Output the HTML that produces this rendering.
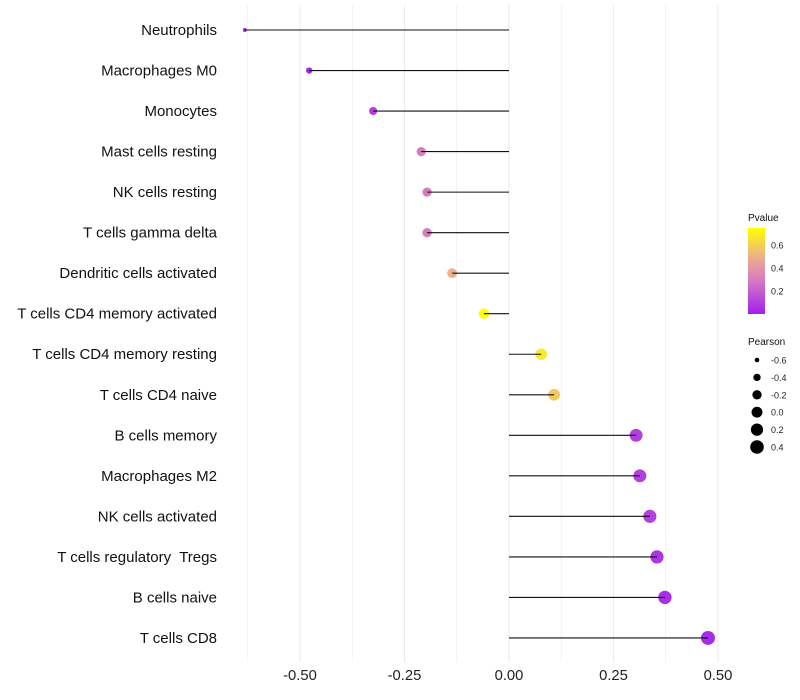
<!DOCTYPE html>
<html><head><meta charset="utf-8"><style>
body{margin:0;background:#fff;font-family:"Liberation Sans",Arial,sans-serif}
svg{display:block}
text{white-space:pre}
</style></head><body>
<svg id="chart" width="800" height="700"></svg>
<script>
const categories=["Neutrophils","Macrophages M0","Monocytes","Mast cells resting","NK cells resting","T cells gamma delta","Dendritic cells activated","T cells CD4 memory activated","T cells CD4 memory resting","T cells CD4 naive","B cells memory","Macrophages M2","NK cells activated","T cells regulatory  Tregs","B cells naive","T cells CD8"];
const pearson=[-0.632,-0.478,-0.325,-0.21,-0.196,-0.196,-0.136,-0.06,0.077,0.108,0.304,0.313,0.337,0.354,0.373,0.476];
const pvalues=[0.02,0.03,0.1,0.3,0.3,0.3,0.5,0.75,0.68,0.58,0.1,0.1,0.1,0.07,0.05,0.04];
const xTicks=[-0.5,-0.25,0,0.25,0.5];
const xTickLabels=["-0.50","-0.25","0.00","0.25","0.50"];
const pLegendTicks=[0.2,0.4,0.6];
const sizeLegendVals=[-0.6,-0.4,-0.2,0.0,0.2,0.4];

const NS="http://www.w3.org/2000/svg";
const svg=document.getElementById('chart');
function mk(tag,attrs,parent){const e=document.createElementNS(NS,tag);for(const k in attrs)e.setAttribute(k,attrs[k]);(parent||svg).appendChild(e);return e;}
const x=v=>509+418*v;
const y=i=>30+i*40.53;
const r=v=>Math.sqrt(Math.max(1,29.7+40.6*v));
const cstops=[[0,[160,32,240]],[0.4,[216,124,192]],[0.67,[238,176,136]],[1,[255,255,0]]];
function col(p){const t=Math.min(1,Math.max(0,p/0.75));
  for(let k=0;k<cstops.length-1;k++){const [t0,a]=cstops[k],[t1,b]=cstops[k+1];
    if(t<=t1){const f=(t-t0)/(t1-t0);return `rgb(${a.map((c,i)=>Math.round(c+(b[i]-c)*f)).join(',')})`;}}
  return 'rgb(255,255,0)';}

for(let g=-0.625;g<=0.5001;g+=0.125){
  const l=mk('line',{x1:x(g),x2:x(g),y1:5,y2:662,stroke:'#ebebeb','stroke-width':Math.abs(g*4-Math.round(g*4))<1e-6?1.1:0.6});
  
  
}
xTicks.forEach((v,i)=>{
  const t=mk('text',{x:x(v),y:680,'text-anchor':'middle','font-size':14.8,fill:'#222'});
  t.textContent=xTickLabels[i];
  
  
});
categories.forEach((c,i)=>{
  const t=mk('text',{x:217,y:y(i)+5,'text-anchor':'end','font-size':15,fill:'#111'});
  t.textContent=c;
  
  
  const d=mk('circle',{cx:x(pearson[i]),cy:y(i),r:r(pearson[i]),fill:col(pvalues[i])});
  
  
  const l=mk('line',{x1:x(0),x2:x(pearson[i]),y1:y(i),y2:y(i),stroke:'#111','stroke-width':1.1});
  
  
});
const defs=mk('defs',{});
const lg=mk('linearGradient',{id:'pg',x1:0,y1:1,x2:0,y2:0},defs);
cstops.forEach(s=>mk('stop',{offset:s[0],'stop-color':col(s[0]*0.75)},lg));
const lt=mk('text',{x:748,y:221,'font-size':10,fill:'#111'});lt.textContent='Pvalue';


const bar=mk('rect',{x:748,y:228,width:17,height:86,fill:'url(#pg)'});


const py=p=>314-p*115;
pLegendTicks.forEach(p=>{
  const t=mk('text',{x:771,y:py(p)+3.5,'font-size':9,fill:'#222'});t.textContent=p.toFixed(1);
  
  
});
const st=mk('text',{x:748,y:345,'font-size':10,fill:'#111'});st.textContent='Pearson';


sizeLegendVals.forEach((v,i)=>{
  const cy=360+i*17.4;
  const c=mk('circle',{cx:757,cy:cy,r:r(v),fill:'#000'});
  
  
  const t=mk('text',{x:771,y:cy+3.5,'font-size':9,fill:'#222'});t.textContent=v.toFixed(1);
  
  
});
</script>
</body></html>
